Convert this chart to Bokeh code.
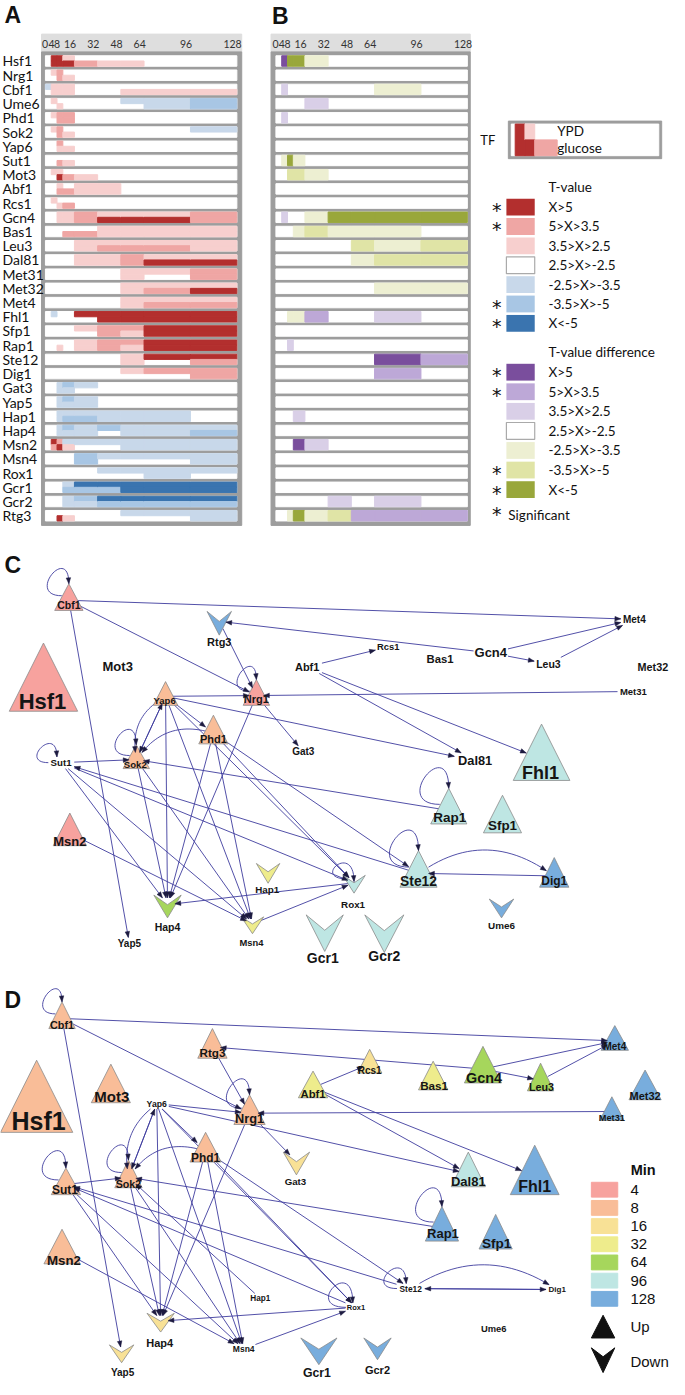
import math
from bokeh.plotting import figure
from bokeh.models import Range1d, ColumnDataSource
from bokeh.core.properties import value
from bokeh.embed import file_html
from bokeh.resources import INLINE

# ---------------- data: heatmaps ----------------
rows = ["Hsf1", "Nrg1", "Cbf1", "Ume6", "Phd1", "Sok2", "Yap6", "Sut1", "Mot3", "Abf1",
        "Rcs1", "Gcn4", "Bas1", "Leu3", "Dal81", "Met31", "Met32", "Met4", "Fhl1", "Sfp1",
        "Rap1", "Ste12", "Dig1", "Gat3", "Yap5", "Hap1", "Hap4", "Msn2", "Msn4", "Rox1",
        "Gcr1", "Gcr2", "Rtg3"]
time_edges = [0, 4, 8, 12, 20, 36, 52, 68, 100, 132]
tick_times = [0, 4, 8, 16, 32, 48, 64, 96, 128]
tick_labels = ["0", "4", "8", "16", "32", "48", "64", "96", "128"]

A_ypd = [
    [0, 3, 3, 1, 0, 0, 0, 0, 0], [0, 1, 2, 0, 0, 0, 0, 0, 0], [-1, 1, 1, 1, 0, 0, 0, 0, 0],
    [0, 1, 0, 0, 0, 0, -1, -1, -2], [0, 1, 2, 2, 0, 0, 0, 0, 0], [0, 1, 2, 0, 0, 0, 0, 0, -1],
    [0, 0, 2, 0, 0, 0, 0, 0, 0], [0, 0, 0, 0, 0, 0, 0, 0, 0], [0, 1, 1, 0, 0, 0, 0, 0, 0],
    [0, 0, 1, 0, 1, 1, 0, 0, 0], [0, 1, 0, 0, 0, 0, 0, 0, 0], [0, 0, 1, 1, 2, 1, 1, 1, 2],
    [0, 0, 0, 0, 0, 1, 1, 1, 1], [0, 0, 0, 0, 1, 1, 1, 1, 1], [0, 0, 0, 0, 1, 1, 2, 1, 1],
    [0, 0, 0, 0, 0, 0, 1, 1, 2], [0, 0, 0, 0, 0, 0, 1, 1, 1], [0, 0, 0, 0, 0, 0, 1, 1, 1],
    [0, -1, 0, 0, 3, 3, 3, 3, 3], [0, 0, 0, 0, 1, 2, 2, 3, 3], [0, 0, 0, 0, 1, 2, 2, 3, 3],
    [0, 0, 0, 0, 0, 0, 1, 3, 3], [0, 0, 0, 0, 0, 0, 1, 2, 2], [0, 0, -1, -2, -1, 0, 0, 0, 0],
    [0, 0, -1, -2, -1, 0, 0, 0, 0], [0, 0, -1, -1, -1, -1, -1, -1, 0], [0, 0, -1, -2, -1, -2, -1, -1, -1],
    [0, 3, 2, -1, -1, -1, -1, -1, -1], [0, 0, 0, 0, -2, -1, -1, -1, -1], [0, 0, 0, 0, 0, -1, -1, -1, -1],
    [0, 0, 0, -1, -3, -3, -3, -3, -3], [0, 0, 0, -1, -2, -3, -3, -3, -3], [0, 0, 0, 0, 0, 0, -1, -1, -1],
]
A_glc = [
    [0, 3, 3, 3, 2, 1, 1, 0, 0], [0, 0, 2, 1, 0, 0, 0, 0, 0], [0, 1, 1, 1, 0, 0, 1, 1, 1],
    [0, 0, 1, 0, 0, 0, 0, -1, -2], [0, 0, 2, 2, 0, 0, 0, 0, 0], [0, 0, 2, 1, 0, 0, 0, 0, 0],
    [0, 0, 1, 1, 0, 0, 0, 0, 0], [0, 0, 2, 1, 0, 0, 0, 0, 0], [0, 0, 3, 2, 1, 0, 0, 0, 0],
    [0, 0, 2, 2, 1, 1, 0, 0, 0], [0, 0, 1, 2, 0, 0, 0, 0, 0], [0, 0, 1, 1, 2, 3, 3, 3, 2],
    [0, 0, 0, 2, 2, 1, 1, 1, 1], [0, 0, 0, 0, 1, 2, 2, 2, 1], [0, 0, 0, 0, 1, 1, 2, 3, 3],
    [0, 0, 0, 0, 0, 0, 1, 0, 2], [0, 0, 0, 0, 0, 0, 1, 2, 3], [0, 0, 0, 0, 0, 0, 1, 2, 2],
    [0, 0, 0, 0, 0, 3, 3, 3, 3], [0, 0, 0, 0, 0, 2, 1, 3, 3], [0, 0, 1, 0, 1, 2, 1, 3, 3],
    [0, 0, 0, 0, 0, 0, 1, 0, 2], [0, 0, 0, 0, 0, 0, 0, 0, 2], [0, 0, -1, -1, 0, 0, 0, 0, 0],
    [0, 0, -1, -1, -1, 0, 0, 0, 0], [0, 0, -1, -2, -2, -1, -1, -1, 0], [0, 0, -1, -1, -1, 0, -1, -1, -2],
    [0, 2, 3, 1, 0, 0, -1, -1, -1], [0, 0, 0, 0, -2, 0, 0, 0, -1], [0, 0, 0, 0, 0, 0, 0, -1, 0],
    [0, 0, 0, -2, -2, -2, -3, -3, -3], [0, 0, 0, -1, -1, -2, -2, -2, -2], [0, 0, 3, 1, 0, 0, 0, 0, -1],
]
Z = [0] * 9
B_diff = [
    [0, 3, -3, -3, -1, 0, 0, 0, 0], Z, [0, 1, 0, 0, 0, 0, 0, -1, 0], [0, 0, 0, 0, 1, 0, 0, 0, 0],
    [0, 1, 0, 0, 0, 0, 0, 0, 0], Z, Z, [0, -1, -3, -1, 0, 0, 0, 0, 0], [0, 0, -2, -2, -1, 0, 0, 0, 0],
    Z, Z, [0, 1, 0, 0, -1, -3, -3, -3, -3], [0, 0, 0, -1, -2, -1, -1, -1, 0],
    [0, 0, 0, 0, 0, 0, -2, -1, -2], [0, 0, 0, 0, 0, 0, -1, -2, -2], Z, [0, 0, 0, 0, 0, 0, 0, -1, -1],
    Z, [0, 0, -1, -1, 2, 0, 0, 1, 0], Z, [0, 0, 1, 0, 0, 0, 0, 0, 0], [0, 0, 0, 0, 0, 0, 0, 3, 2],
    [0, 0, 0, 0, 0, 0, 0, 2, 0], Z, Z, [0, 0, 0, 1, 0, 0, 0, 0, 0], Z, [0, 0, 0, 3, 1, 0, 0, 0, 0],
    Z, Z, Z, [0, 0, 0, 0, 0, 1, 0, 1, 0], [0, 0, -1, -3, -1, -2, 2, 2, 2],
]

tval_levels = [3, 2, 1, 0, -1, -2, -3]
tval_labels = ["X>5", "5>X>3.5", "3.5>X>2.5", "2.5>X>-2.5", "-2.5>X>-3.5", "-3.5>X>-5", "X<-5"]
tval_signif = [True, True, False, False, False, True, True]

A_colors = {3: "#B32F2E", 2: "#EFA6A4", 1: "#F7CFCE", 0: "#FFFFFF", -1: "#C8D8EA", -2: "#A8C6E4", -3: "#3A74AF"}
B_colors = {3: "#7A4E9D", 2: "#BDA8D7", 1: "#D9CFE7", 0: "#FFFFFF", -1: "#EDEFD2", -2: "#E0E4A6", -3: "#99A73B"}

# ---------------- data: networks ----------------
min_times = [4, 8, 16, 32, 64, 96, 128]
min_colors = ["#F7A29E", "#F9BD98", "#F8E196", "#EEEC8C", "#A6D65C", "#BEE6E3", "#78ADDD"]
MC = dict(zip(min_times, min_colors))

# name: (shape, cx, top, w, h, minute, label_x, label_y, font_px)
C_nodes = {
    "Cbf1": ("up", 70, 590, 29, 27, 4, 70, 612, 10.5),
    "Rtg3": ("down", 224, 618, 25, 24, 128, 224, 649, 11),
    "Hsf1": ("up", 44, 650, 70, 69, 4, 43, 709, 22),
    "Yap6": ("up", 169, 689, 25, 24, 8, 168, 708, 9.5),
    "Nrg1": ("up", 262, 687, 27, 26, 4, 262, 707, 11),
    "Phd1": ("up", 218, 723, 30, 29, 8, 218, 747, 11),
    "Sok2": ("up", 139, 753, 27, 24, 8, 138, 773, 9.6),
    "Msn2": ("up", 71, 822, 34, 33, 4, 71, 851, 13),
    "Hap1": ("down", 274, 873, 24, 20, 32, 273, 899, 9.8),
    "Hap4": ("down", 171, 905, 28, 23, 64, 171, 937, 10.5),
    "Msn4": ("down", 258, 927, 23, 17, 32, 257, 953, 9.4),
    "Gcr1": ("down", 332, 925, 38, 37, 96, 330, 969, 14),
    "Gcr2": ("down", 393, 925, 40, 38, 96, 393, 967, 14),
    "Fhl1": ("up", 554, 732, 58, 57, 96, 553, 781, 18),
    "Rap1": ("up", 459, 797, 37, 36, 96, 460, 826, 13.5),
    "Sfp1": ("up", 514, 804, 39, 38, 96, 514, 835, 13.4),
    "Ste12": ("up", 428, 860, 38, 37, 96, 428, 891, 13.8),
    "Dig1": ("up", 567, 867, 30, 30, 128, 567, 891, 12),
    "Rox1": ("down", 362, 885, 23, 18, 96, 361, 914, 9.8),
    "Ume6": ("down", 513, 909, 25, 19, 128, 513, 936, 9.9),
    "Mot3": (None, 0, 0, 0, 0, 0, 120, 674, 13),
    "Abf1": (None, 0, 0, 0, 0, 0, 314, 674, 11),
    "Rcs1": (None, 0, 0, 0, 0, 0, 397, 654, 9.4),
    "Bas1": (None, 0, 0, 0, 0, 0, 450, 666, 11.3),
    "Gcn4": (None, 0, 0, 0, 0, 0, 502, 660, 13),
    "Leu3": (None, 0, 0, 0, 0, 0, 561, 671, 10.5),
    "Met32": (None, 0, 0, 0, 0, 0, 668, 674, 10.8),
    "Met4": (None, 0, 0, 0, 0, 0, 649, 626, 10),
    "Met31": (None, 0, 0, 0, 0, 0, 648, 699, 9.5),
    "Gat3": (None, 0, 0, 0, 0, 0, 310, 760, 10),
    "Dal81": (None, 0, 0, 0, 0, 0, 486, 769, 12.8),
    "Sut1": (None, 0, 0, 0, 0, 0, 62, 771, 9.7),
    "Yap5": (None, 0, 0, 0, 0, 0, 132, 954, 10),
}
D_nodes = {
    "Cbf1": ("up", 63, 1013, 27, 27, 8, 63, 1036, 10.8),
    "Rtg3": ("up", 217, 1040, 30, 30, 8, 217, 1064, 11.7),
    "Hsf1": ("up", 37, 1072, 74, 73, 8, 39, 1133, 25),
    "Mot3": ("up", 113, 1076, 40, 39, 8, 114, 1109, 15),
    "Abf1": ("up", 320, 1083, 30, 27, 32, 320, 1106, 11.3),
    "Nrg1": ("up", 255, 1107, 32, 30, 8, 255, 1131, 12.8),
    "Phd1": ("up", 210, 1145, 32, 30, 8, 210, 1171, 11.9),
    "Gat3": ("down", 303, 1165, 27, 23, 16, 302, 1195, 9.7),
    "Sok2": ("up", 131, 1173, 28, 28, 8, 131, 1197, 10.7),
    "Sut1": ("up", 67, 1181, 30, 27, 8, 66, 1203, 12),
    "Msn2": ("up", 63, 1243, 37, 35, 8, 65, 1275, 13.3),
    "Hap4": ("down", 164, 1328, 28, 19, 16, 163, 1358, 11),
    "Yap5": ("down", 124, 1360, 25, 18, 16, 125, 1388, 10),
    "Gcr1": ("down", 326, 1353, 37, 27, 128, 324, 1388, 12.3),
    "Met4": ("up", 629, 1037, 28, 25, 128, 629, 1058, 10),
    "Rcs1": ("up", 378, 1061, 25, 24, 16, 378, 1082, 10),
    "Bas1": ("up", 443, 1073, 30, 29, 32, 444, 1098, 11.7),
    "Gcn4": ("up", 494, 1058, 38, 37, 64, 495, 1090, 14.4),
    "Leu3": ("up", 553, 1075, 27, 28, 64, 554, 1099, 10.7),
    "Met32": ("up", 660, 1082, 33, 30, 128, 660, 1108, 11),
    "Met31": ("up", 626, 1109, 25, 24, 128, 626, 1130, 9.2),
    "Dal81": ("up", 479, 1165, 35, 35, 96, 479, 1195, 13),
    "Fhl1": ("up", 547, 1158, 50, 50, 128, 547, 1200, 16),
    "Rap1": ("up", 452, 1220, 34, 35, 128, 453, 1247, 13),
    "Sfp1": ("up", 507, 1228, 34, 35, 128, 508, 1257, 13.6),
    "Gcr2": ("down", 386, 1353, 28, 22, 128, 386, 1385, 11),
    "Yap6": (None, 0, 0, 0, 0, 0, 160, 1116, 8.7),
    "Hap1": (None, 0, 0, 0, 0, 0, 266, 1313, 8.2),
    "Msn4": (None, 0, 0, 0, 0, 0, 249, 1364, 8.5),
    "Ste12": (None, 0, 0, 0, 0, 0, 420, 1303, 8.4),
    "Dig1": (None, 0, 0, 0, 0, 0, 570, 1304, 8),
    "Rox1": (None, 0, 0, 0, 0, 0, 364, 1322, 7.5),
    "Ume6": (None, 0, 0, 0, 0, 0, 505, 1343, 9.4),
}

common_edges = [
    ("Cbf1", "Met4", 0), ("Cbf1", "Nrg1", 0), ("Cbf1", "Yap5", 0),
    ("Gcn4", "Rtg3", 0), ("Gcn4", "Leu3", 0), ("Gcn4", "Met4", 0), ("Leu3", "Met4", 0),
    ("Abf1", "Rcs1", 0), ("Abf1", "Dal81", 0), ("Abf1", "Fhl1", 0),
    ("Rtg3", "Nrg1", 0), ("Met31", "Nrg1", 0), ("Yap6", "Nrg1", 0), ("Nrg1", "Gat3", 0),
    ("Nrg1", "Hap4", 0), ("Yap6", "Dal81", 0),
    ("Yap6", "Sok2", 0), ("Sok2", "Yap6", 0), ("Yap6", "Phd1", 0), ("Phd1", "Sok2", 26),
    ("Yap6", "Sok2", 22),
    ("Yap6", "Hap4", 0), ("Yap6", "Msn4", 0), ("Yap6", "Rox1", 0),
    ("Phd1", "Hap4", 0), ("Phd1", "Msn4", 0), ("Phd1", "Rox1", 0), ("Phd1", "Ste12", 0),
    ("Sut1", "Sok2", 0), ("Sut1", "Hap4", 0), ("Sut1", "Msn4", 0), ("Ste12", "Sut1", 0),
    ("Sok2", "Hap4", 0), ("Sok2", "Msn4", 0), ("Rap1", "Sok2", 0),
    ("Msn2", "Msn4", 0), ("Rox1", "Hap4", 0), ("Msn4", "Rox1", 0),
    ("Ste12", "Dig1", -44), ("Dig1", "Ste12", 0),
]
C_edges = common_edges + [("Sut1", "Rox1", 0)]
D_edges = common_edges + [("Rox1", "Sut1", 0), ("Hap1", "Sok2", 0), ("Ste12", "Dig1", 0)]
C_loops = {"Cbf1": 17, "Nrg1": 15, "Sok2": 17, "Sut1": 14, "Rap1": 23, "Ste12": 23, "Rox1": 17}
D_loops = {"Cbf1": 15, "Nrg1": 18, "Sok2": 17, "Sut1": 19, "Rap1": 21, "Ste12": 16, "Rox1": 20}

# ---------------- figure ----------------
p = figure(width=669, height=1379, x_range=Range1d(0, 685), y_range=Range1d(1395, 0),
           x_axis_type=None, y_axis_type=None, output_backend="svg", toolbar_location=None,
           min_border=0, outline_line_color=None, background_fill_color="white")
p.grid.visible = False

LAT = value("Lato")
ARB = value("Liberation Sans")


def txt(xs, ys, texts, size, font=LAT, style="normal", align="left", color="#111111", baseline="middle"):
    if not isinstance(xs, list):
        xs, ys, texts = [xs], [ys], [texts]
    p.text(x=xs, y=ys, text=texts, text_font=font, text_font_size=value(size),
           text_font_style=style, text_align=align, text_baseline=baseline, text_color=color)


# ---------------- heatmaps ----------------
PXM = 1.485
ROW0, ROWSTEP, HALF = 61.2, 14.375, 5.3
tick_dx = {0: -0.5, 4: 0.2, 8: 0.0}


def heat_panel(x0, frame_l, frame_r):
    p.quad(left=[frame_l], right=[frame_r], top=[34], bottom=[52], color="#DEDEDE")
    p.quad(left=[frame_l], right=[frame_r], top=[52], bottom=[531], color="#9D9D9D")
    ry = [ROW0 + ROWSTEP * i for i in range(len(rows))]
    p.quad(left=[x0] * len(rows), right=[x0 + PXM * time_edges[-1]] * len(rows),
           top=[y - HALF for y in ry], bottom=[y + HALF for y in ry], color="white")
    txt([x0 + PXM * t + tick_dx.get(t, 1.5) for t in tick_times], [43.5] * len(tick_times),
        tick_labels, "10.5px", align="center", color="#333333")
    return ry


ry = heat_panel(46, 42, 247)
L, R, T, B, Cc = [], [], [], [], []
for i, y in enumerate(ry):
    for j in range(9):
        for vals, t0, t1 in ((A_ypd, y - HALF, y), (A_glc, y, y + HALF)):
            v = vals[i][j]
            if v != 0:
                L.append(46 + PXM * time_edges[j]); R.append(46 + PXM * time_edges[j + 1])
                T.append(t0); B.append(t1); Cc.append(A_colors[v])
p.quad(left=L, right=R, top=T, bottom=B, color=Cc)
txt([2] * len(rows), ry, rows, "14px")

heat_panel(282, 277, 481)
L, R, T, B, Cc = [], [], [], [], []
for i, y in enumerate(ry):
    for j in range(9):
        v = B_diff[i][j]
        if v != 0:
            L.append(282 + PXM * time_edges[j]); R.append(282 + PXM * time_edges[j + 1])
            T.append(y - HALF); B.append(y + HALF); Cc.append(B_colors[v])
p.quad(left=L, right=R, top=T, bottom=B, color=Cc)

# panel letters
txt([4, 278, 4, 4], [15, 16, 571, 1011], ["A", "B", "C", "D"], "23px", font=ARB, style="bold")

# ---------------- heat legend ----------------
p.quad(left=[520], right=[677], top=[122], bottom=[160], color="#9D9D9D")
p.quad(left=[523], right=[674], top=[125], bottom=[157], color="white")
p.quad(left=[527, 537, 537, 547], right=[537, 547, 547, 570], top=[125, 125, 141, 141],
       bottom=[157, 141, 157, 157], color=[A_colors[3], A_colors[1], A_colors[3], A_colors[2]])
txt(499, 141, "TF", "13px", align="center")
txt([570, 570], [132, 149], ["YPD", "glucose"], "13.5px")

sw_y1 = [209 + 19.6 * k for k in range(7)]
sw_y2 = [376 + 19.8 * k for k in range(7)]
txt(561, 189, "T-value", "13.5px")
txt(561, 356, "T-value difference", "13.5px")
for ys, cmap in ((sw_y1, A_colors), (sw_y2, B_colors)):
    p.quad(left=[518] * 7, right=[547] * 7, top=[y - 8.5 for y in ys], bottom=[y + 8.5 for y in ys],
           fill_color=[cmap[v] for v in tval_levels],
           line_color=["#AAAAAA" if v == 0 else None for v in tval_levels], line_width=1.2)
    txt([561] * 7, ys, tval_labels, "13.5px")
    sy = [y for y, s in zip(ys, tval_signif) if s]
    txt([508] * len(sy), [y + 3 for y in sy], ["*"] * len(sy), "19px", font=value("DejaVu Sans"), align="center")
txt(508, 519, "*", "19px", font=value("DejaVu Sans"), align="center")
txt(520, 520, "Significant", "13.5px")


# ---------------- networks ----------------
def center_box(nodes, name):
    sh, cx, top, w, h, mn, lx, ly, fs = nodes[name]
    if sh == "up":
        return (cx, top + 0.62 * h), 0.27 * w, 0.30 * h
    if sh == "down":
        return (cx, top + 0.42 * h), 0.27 * w, 0.30 * h
    return (lx, ly), 0.31 * len(name) * fs + 1.5, 0.62 * fs


def clip(c, other, hw, hh):
    dx, dy = other[0] - c[0], other[1] - c[1]
    d = math.hypot(dx, dy) or 1.0
    ux, uy = dx / d, dy / d
    t = min(hw / abs(ux) if abs(ux) > 1e-9 else 1e9, hh / abs(uy) if abs(uy) > 1e-9 else 1e9)
    return (c[0] + ux * t, c[1] + uy * t)


def arrow(tip, prev, ln=6.0, hw=2.3):
    dx, dy = tip[0] - prev[0], tip[1] - prev[1]
    d = math.hypot(dx, dy) or 1.0
    ux, uy = dx / d, dy / d
    bx, by = tip[0] - ux * ln, tip[1] - uy * ln
    return [tip[0], bx - uy * hw, bx + uy * hw], [tip[1], by + ux * hw, by - ux * hw]


def draw_network(nodes, edges, loops):
    lxs, lys, axs, ays = [], [], [], []
    for s, t, k in edges:
        cs, hws, hhs = center_box(nodes, s)
        ct, hwt, hht = center_box(nodes, t)
        if k == 0:
            a = clip(cs, ct, hws, hhs)
            b = clip(ct, cs, hwt, hht)
            pts = [a, b]
        else:
            dx, dy = ct[0] - cs[0], ct[1] - cs[1]
            d = math.hypot(dx, dy)
            ctrl = ((cs[0] + ct[0]) / 2 - dy / d * k, (cs[1] + ct[1]) / 2 + dx / d * k)
            a = clip(cs, ctrl, hws, hhs)
            b = clip(ct, ctrl, hwt, hht)
            pts = [((1 - u) ** 2 * a[0] + 2 * (1 - u) * u * ctrl[0] + u * u * b[0],
                    (1 - u) ** 2 * a[1] + 2 * (1 - u) * u * ctrl[1] + u * u * b[1])
                   for u in [i / 24 for i in range(25)]]
        lxs.append([q[0] for q in pts]); lys.append([q[1] for q in pts])
        hx, hy = arrow(pts[-1], pts[-2])
        axs.append(hx); ays.append(hy)
    for name, Ls in loops.items():
        sh, cx, top, w, h, mn, lx, ly, fs = nodes[name]
        if sh == "up":
            S = (cx - 0.25 * w, top + 0.45 * h); E = (cx, top)
        elif sh == "down":
            S = (cx - 0.3 * w, top + 0.2 * h); E = (cx, top + 0.35 * h)
        else:
            hwid = 0.31 * len(name) * fs
            S = (lx - hwid - 1, ly); E = (lx - 0.35 * hwid, ly - 0.6 * fs)
        C1 = (S[0] - 2.2 * Ls, S[1]); C2 = (E[0], E[1] - 2.4 * Ls)
        pts = []
        for i in range(31):
            u = i / 30
            pts.append(((1 - u) ** 3 * S[0] + 3 * (1 - u) ** 2 * u * C1[0] + 3 * (1 - u) * u * u * C2[0] + u ** 3 * E[0],
                        (1 - u) ** 3 * S[1] + 3 * (1 - u) ** 2 * u * C1[1] + 3 * (1 - u) * u * u * C2[1] + u ** 3 * E[1]))
        lxs.append([q[0] for q in pts]); lys.append([q[1] for q in pts])
        hx, hy = arrow(pts[-1], pts[-3])
        axs.append(hx); ays.append(hy)
    p.multi_line(xs=lxs, ys=lys, line_color="#3E3C9E", line_width=0.9)
    pxs, pys, pcs = [], [], []
    for name, (sh, cx, top, w, h, mn, lx, ly, fs) in nodes.items():
        if sh == "up":
            pxs.append([cx - w / 2, cx, cx + w / 2]); pys.append([top + h, top, top + h])
        elif sh == "down":
            pxs.append([cx - w / 2, cx, cx + w / 2, cx]); pys.append([top, top + 0.42 * h, top, top + h])
        else:
            continue
        pcs.append(MC[mn])
    p.patches(xs=pxs, ys=pys, fill_color=pcs, line_color="#8A8A8A", line_width=0.8)
    p.patches(xs=axs, ys=ays, fill_color="#1D1B40", line_color="#1D1B40", line_width=0.5)
    names = list(nodes.keys())
    src = ColumnDataSource(dict(x=[nodes[n][6] for n in names], y=[nodes[n][7] for n in names],
                                t=names, fs=["%.1fpx" % nodes[n][8] for n in names]))
    p.text(x="x", y="y", text="t", source=src, text_font=ARB, text_font_size="fs",
           text_font_style="bold", text_align="center", text_baseline="middle", text_color="#151515")


draw_network(C_nodes, C_edges, C_loops)
draw_network(D_nodes, D_edges, D_loops)

# ---------------- Min legend ----------------
txt(658, 1183, "Min", "14.5px", font=ARB, style="bold", align="center")
my = [1203 + 18.4 * k for k in range(7)]
p.quad(left=[605] * 7, right=[632] * 7, top=[y - 7.5 for y in my], bottom=[y + 7.5 for y in my],
       color=min_colors)
txt([645] * 7, my, [str(m) for m in min_times], "15px", font=ARB)
p.patches(xs=[[605, 617, 629], [605, 617, 629, 617]], ys=[[1353, 1330, 1353], [1363, 1372, 1363, 1388]],
          color="#111111")
txt(645, 1341, "Up", "15px", font=ARB)
txt(645, 1377, "Down", "15px", font=ARB)

open("out.html", "w").write(file_html(p, INLINE))
